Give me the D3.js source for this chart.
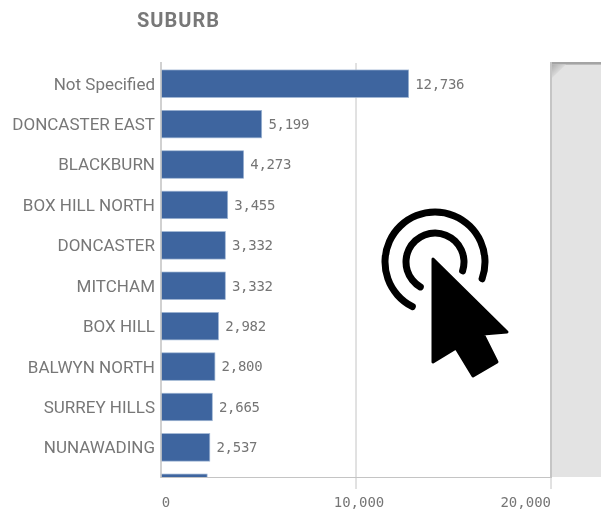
<!DOCTYPE html>
<html>
<head>
<meta charset="utf-8">
<style>
html,body{margin:0;padding:0;background:#fff;overflow:hidden}
svg{display:block;filter:blur(0.35px)}
text{font-family:Roboto,"Open Sans",sans-serif}
</style>
<script src="https://cdn.jsdelivr.net/npm/d3@7"></script>
</head>
<body>
<svg id="c" width="601" height="515"></svg>
<script>
const categories = ["Not Specified","DONCASTER EAST","BLACKBURN","BOX HILL NORTH","DONCASTER","MITCHAM","BOX HILL","BALWYN NORTH","SURREY HILLS","NUNAWADING","(next)"];
const values = [12736,5199,4273,3455,3332,3332,2982,2800,2665,2537,2400];
const tickValues = [0,10000,20000];
const title = "SUBURB";

const svg = d3.select("#c");
const x = d3.scaleLinear().domain([0,20000]).range([161,551]);
const y = d3.scaleBand().domain(categories).range([63.5,508]).paddingInner(0.32).paddingOuter(0.16);
const fmt = d3.format(",");
const bottom = 477.5;

const defs = svg.append("defs");
defs.append("clipPath").attr("id","plot")
  .append("rect").attr("x",150).attr("y",50).attr("width",451).attr("height",bottom-50);
const grad = defs.append("linearGradient").attr("id","corner")
  .attr("x1",0).attr("y1",0).attr("x2",0.6).attr("y2",0.6);
grad.append("stop").attr("offset","0%").attr("stop-color","#aeaeae");
grad.append("stop").attr("offset","100%").attr("stop-color","#e3e3e3");

// grey panel
svg.append("rect").attr("x",551).attr("y",63).attr("width",50).attr("height",414).attr("fill","#e3e3e3");
svg.append("rect").attr("x",550).attr("y",62).attr("width",51).attr("height",2.6).attr("fill","#a4a4a4");
svg.append("rect").attr("x",550).attr("y",62).attr("width",2).attr("height",416).attr("fill","#c6c6c6");
svg.append("path").attr("d","M552,64.6H566L552,78Z").attr("fill","url(#corner)");

// grid
svg.append("g").selectAll("line").data(tickValues.slice(1)).join("line")
  .attr("x1",d=>x(d)).attr("x2",d=>x(d)).attr("y1",63).attr("y2",489)
  .attr("stroke","#c4c4c4").attr("stroke-width",1);

// bars
svg.append("g").attr("clip-path","url(#plot)").selectAll("rect").data(categories).join("rect")
  .attr("x",x(0)).attr("y",d=>y(d)).attr("height",y.bandwidth())
  .attr("width",(d,i)=>x(values[i])-x(0)-0.7)
  .attr("fill","#3e659f").attr("stroke","#9fb6d4").attr("stroke-width",.7);

// axes
svg.append("line").attr("x1",161).attr("x2",161).attr("y1",62).attr("y2",478).attr("stroke","#c6c6c6").attr("stroke-width",1.6);
svg.append("line").attr("x1",161).attr("x2",551).attr("y1",bottom).attr("y2",bottom).attr("stroke","#c4c4c4").attr("stroke-width",1.2);

// category labels
svg.append("g").selectAll("text").data(categories.slice(0,10)).join("text")
  .attr("x",155).attr("y",d=>y(d)+y.bandwidth()/2).attr("dy","0.35em")
  .attr("text-anchor","end").attr("font-size",17).attr("fill","#777777").text(d=>d);

// value labels
svg.append("g").selectAll("text").data(categories.slice(0,10)).join("text")
  .attr("x",(d,i)=>x(values[i])+6).attr("y",d=>y(d)+y.bandwidth()/2).attr("dy","0.35em")
  .attr("font-size",14).attr("fill","#757575").style("font-family","'DejaVu Sans Mono',monospace")
  .attr("textLength",(d,i)=>fmt(values[i]).length*8.2)
  .text((d,i)=>fmt(values[i]));

// tick labels
svg.append("g").selectAll("text").data(tickValues).join("text")
  .attr("x",(d,i)=>i===0?x(d)+5:i===1?x(d)+3:x(d)).attr("y",507)
  .attr("text-anchor",(d,i)=>i===2?"end":"middle")
  .attr("font-size",14).attr("fill","#757575").style("font-family","'DejaVu Sans Mono',monospace")
  .text(d=>fmt(d));

// title
svg.append("text").attr("x",137).attr("y",27).attr("font-size",20).attr("font-weight",700)
  .attr("letter-spacing",1).attr("fill","#787878").text(title);

// click icon
const icon = svg.append("g");
const arc = d3.arc().cornerRadius(3.2);
icon.append("path").attr("transform","translate(435,262)")
  .attr("d",arc({innerRadius:46.5,outerRadius:53.5,startAngle:-2.74,endAngle:1.98}))
  .attr("fill","#000");
icon.append("path").attr("transform","translate(435,262)")
  .attr("d",arc({innerRadius:25.5,outerRadius:32.5,startAngle:-2.73,endAngle:2.0}))
  .attr("fill","#000");
icon.append("path")
  .attr("d","M433,259L507,332L483,334L497,362L473,376L456,348L433,362Z")
  .attr("fill","#000").attr("stroke","#000").attr("stroke-width",3).attr("stroke-linejoin","round");
</script>
</body>
</html>
